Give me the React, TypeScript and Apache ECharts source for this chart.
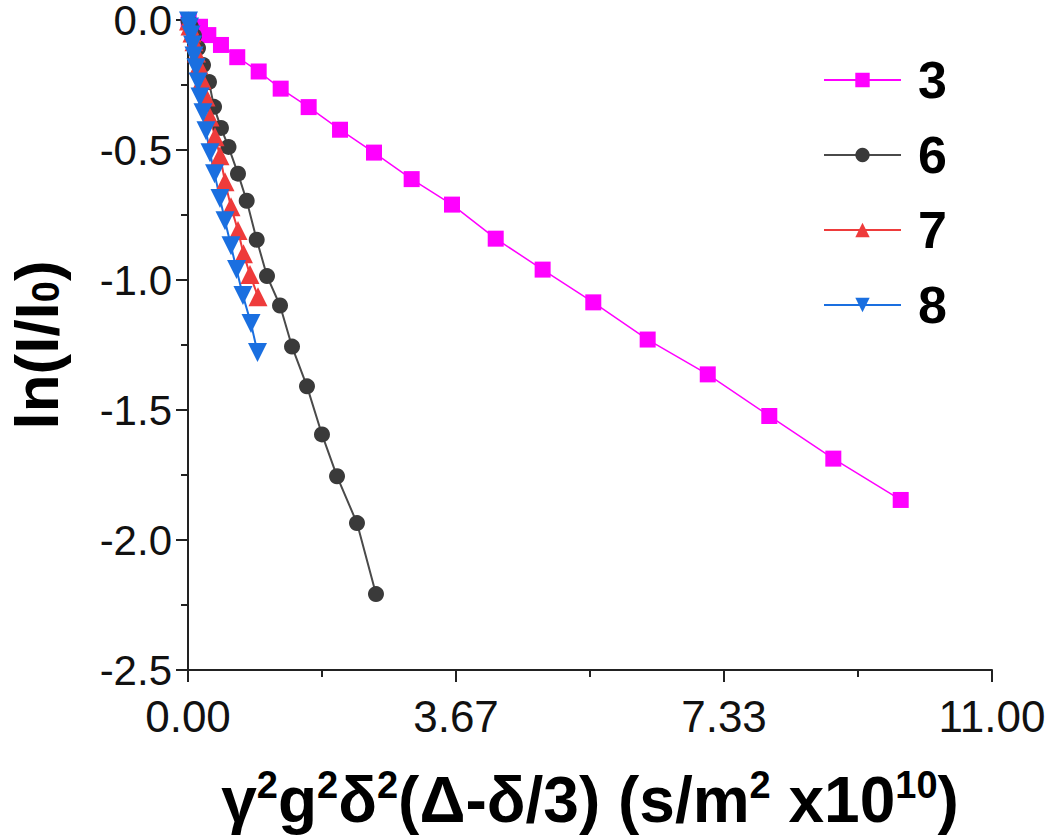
import React, { useEffect, useRef } from "react";
import * as echarts from "echarts";

const seriesNames = ["3", "6", "7", "8"];

const s3X = [0.01, 0.164, 0.278, 0.451, 0.674, 0.967, 1.268, 1.651, 2.08, 2.545, 3.06, 3.612, 4.21, 4.852, 5.545, 6.289, 7.111, 7.953, 8.829, 9.751];
const s3Y = [-0.003, -0.026, -0.058, -0.096, -0.143, -0.198, -0.264, -0.335, -0.422, -0.51, -0.612, -0.71, -0.841, -0.96, -1.086, -1.229, -1.363, -1.523, -1.687, -1.846];

const s6X = [0.007, 0.041, 0.082, 0.137, 0.205, 0.287, 0.356, 0.451, 0.554, 0.684, 0.803, 0.94, 1.081, 1.259, 1.423, 1.628, 1.833, 2.039, 2.312, 2.572];
const s6Y = [-0.004, -0.027, -0.061, -0.108, -0.173, -0.238, -0.334, -0.415, -0.488, -0.591, -0.695, -0.845, -0.985, -1.098, -1.256, -1.409, -1.594, -1.755, -1.935, -2.208];

const s7X = [0.007, 0.027, 0.055, 0.082, 0.116, 0.15, 0.192, 0.246, 0.301, 0.369, 0.438, 0.506, 0.588, 0.684, 0.759, 0.848, 0.958];
const s7Y = [-0.004, -0.023, -0.05, -0.084, -0.127, -0.173, -0.23, -0.296, -0.373, -0.449, -0.522, -0.622, -0.718, -0.81, -0.899, -0.979, -1.064];

const s8X = [0.007, 0.021, 0.041, 0.062, 0.082, 0.109, 0.137, 0.164, 0.205, 0.246, 0.301, 0.363, 0.438, 0.506, 0.588, 0.664, 0.752, 0.862, 0.951];
const s8Y = [-0.004, -0.027, -0.058, -0.096, -0.138, -0.184, -0.238, -0.296, -0.357, -0.426, -0.511, -0.591, -0.687, -0.772, -0.868, -0.96, -1.06, -1.167, -1.279];

const xTickValues = ["0.00", "3.67", "7.33", "11.00"];

const zip = (xs: number[], ys: number[]) => xs.map((x, i) => [x, ys[i]]);

export default function App() {
  const ref = useRef<HTMLDivElement>(null);
  useEffect(() => {
    if (!ref.current) return;
    const chart = echarts.init(ref.current, null, { renderer: "svg" });
    const font = "Liberation Sans, Arial, sans-serif";
    const axisLineStyle = { color: "#222", width: 2 };
    const option: any = {
      animation: false,
      backgroundColor: "#fff",
      grid: { left: 188, right: 58, top: 20, bottom: 167, containLabel: false, outerBoundsMode: "none" },
      legend: {
        orient: "vertical",
        left: 818,
        top: 44,
        itemWidth: 77,
        itemHeight: 18,
        itemGap: 13,
        data: seriesNames,
        textStyle: {
          fontFamily: font,
          fontSize: 52,
          fontWeight: "bold",
          color: "#000",
          lineHeight: 50,
          padding: [0, 0, 12, 12],
        },
      },
      xAxis: {
        type: "value",
        min: 0,
        max: 11,
        interval: 11 / 3,
        splitLine: { show: false },
        axisLine: { show: true, onZero: false, lineStyle: axisLineStyle },
        axisTick: { show: true, length: 12, lineStyle: { color: "#222", width: 2 } },
        minorTick: { show: true, splitNumber: 2, length: 7, lineStyle: { color: "#222", width: 2 } },
        axisLabel: {
          fontFamily: font,
          fontSize: 44,
          lineHeight: 40,
          color: "#111",
          margin: 26,
          formatter: (v: number) => xTickValues[Math.round(v / (11 / 3))] ?? v.toFixed(2),
        },
        name: "{b|γ}{s|2}{b|g}{s|2}{b|δ}{s|2}{b|(Δ-δ/3) (s/m}{s|2}{b| x10}{s|10}{b|)}",
        nameLocation: "middle",
        nameGap: 96,
        nameMoveOverlap: false,
        nameTextStyle: {
          rich: {
            b: { fontFamily: font, fontSize: 64, fontWeight: "bold", color: "#000", lineHeight: 68 },
            s: { fontFamily: font, fontSize: 38, fontWeight: "bold", color: "#000", lineHeight: 68, padding: [0, 0, 30, 0] },
          },
        },
      },
      yAxis: {
        type: "value",
        min: -2.5,
        max: 0,
        interval: 0.5,
        splitLine: { show: false },
        axisLine: { show: true, onZero: false, lineStyle: axisLineStyle },
        axisTick: { show: true, length: 12, lineStyle: { color: "#222", width: 2 } },
        minorTick: { show: true, splitNumber: 2, length: 7, lineStyle: { color: "#222", width: 2 } },
        axisLabel: {
          fontFamily: font,
          fontSize: 42,
          lineHeight: 32,
          color: "#111",
          margin: 16,
          formatter: (v: number) => v.toFixed(1),
        },
        name: "{b|ln(I/I}{sub|0}{b|)}",
        nameLocation: "middle",
        nameRotate: 90,
        nameGap: 125,
        nameMoveOverlap: false,
        nameTextStyle: {
          rich: {
            b: { fontFamily: font, fontSize: 62, fontWeight: "bold", color: "#000", lineHeight: 54 },
            sub: { fontFamily: font, fontSize: 38, fontWeight: "bold", color: "#000", lineHeight: 54, padding: [20, 0, 0, 0] },
          },
        },
      },
      series: [
        {
          name: "3",
          type: "line",
          data: zip(s3X, s3Y),
          symbol: "rect",
          symbolSize: 16,
          itemStyle: { color: "#FF00FF" },
          lineStyle: { color: "#FF00FF", width: 1.5 },
        },
        {
          name: "6",
          type: "line",
          data: zip(s6X, s6Y),
          symbol: "circle",
          symbolSize: 16,
          itemStyle: { color: "#3A3A3A" },
          lineStyle: { color: "#4A4A4A", width: 2 },
        },
        {
          name: "7",
          type: "line",
          data: zip(s7X, s7Y),
          symbol: "triangle",
          symbolSize: 19,
          itemStyle: { color: "#EE3B3B" },
          lineStyle: { color: "#EE3B3B", width: 2 },
        },
        {
          name: "8",
          type: "line",
          data: zip(s8X, s8Y),
          symbol: "triangle",
          symbolRotate: 180,
          symbolSize: 19,
          itemStyle: { color: "#1A6FE0" },
          lineStyle: { color: "#1A6FE0", width: 2 },
        },
      ],
    };
    chart.setOption(option);
    return () => chart.dispose();
  }, []);
  return <div ref={ref} style={{ position: "fixed", left: 0, top: 0, width: 1050, height: 837 }} />;
}
